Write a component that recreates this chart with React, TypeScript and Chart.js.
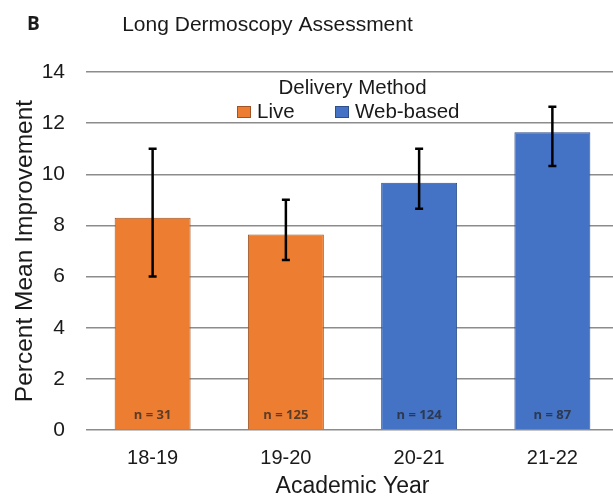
import React, { useEffect, useRef } from "react";
import { Chart, registerables } from "chart.js";

Chart.register(...registerables);

const categories = ["18-19", "19-20", "20-21", "21-22"];
const liveValues = [8.3, 7.65, null, null];
const webValues = [null, null, 9.67, 11.64];
const errLow = [6.0, 6.65, 8.65, 10.32];
const errHigh = [11.0, 9.0, 11.0, 12.64];
const nLabels = ["n = 31", "n = 125", "n = 124", "n = 87"];
const seriesNames = ["Live", "Web-based"];
const seriesColors = ["#ED7D31", "#4472C4"];
const seriesBorders = ["#9E5424", "#2F4F8A"];
const chartTitle = "Long Dermoscopy Assessment";
const panelLabel = "B";
const legendTitle = "Delivery Method";
const xTitle = "Academic Year";
const yTitle = "Percent Mean Improvement";

const FONT = "'Liberation Sans', Arial, sans-serif";

const overlayPlugin = {
  id: "overlay",
  afterDatasetsDraw(chart: any) {
    const { ctx, scales } = chart;
    const y = scales.y;
    ctx.save();
    chart.data.datasets.forEach((ds: any, di: number) => {
      const meta = chart.getDatasetMeta(di);
      meta.data.forEach((el: any, i: number) => {
        if (ds.data[i] == null) return;
        const x = el.x;
        const yl = y.getPixelForValue(errLow[i]);
        const yh = y.getPixelForValue(errHigh[i]);
        ctx.strokeStyle = "#000";
        ctx.lineWidth = 2.5;
        ctx.beginPath();
        ctx.moveTo(x, yl);
        ctx.lineTo(x, yh);
        ctx.stroke();
        ctx.beginPath();
        ctx.moveTo(x - 4, yl);
        ctx.lineTo(x + 4, yl);
        ctx.moveTo(x - 4, yh);
        ctx.lineTo(x + 4, yh);
        ctx.stroke();
        ctx.fillStyle = "rgba(35,35,35,0.72)";
        ctx.font = "bold 13px 'Open Sans', 'Liberation Sans', sans-serif";
        ctx.textAlign = "center";
        ctx.textBaseline = "middle";
        ctx.fillText(nLabels[i], x, y.getPixelForValue(0) - 15);
      });
    });
    ctx.restore();
  },
  afterDraw(chart: any) {
    const { ctx, chartArea } = chart;
    ctx.save();
    ctx.fillStyle = "#1a1a1a";
    ctx.textBaseline = "middle";
    ctx.font = "bold 19px 'Open Sans', 'Liberation Sans', sans-serif";
    ctx.textAlign = "left";
    ctx.fillText(panelLabel, 27, 25);
    ctx.font = `21px ${FONT}`;
    ctx.textAlign = "center";
    ctx.fillText(chartTitle, 267.5, 25);
    const cx = (chartArea.left + chartArea.right) / 2;
    ctx.font = `20.5px ${FONT}`;
    ctx.fillText(legendTitle, cx, 88);
    const itemsX = [237, 335];
    seriesNames.forEach((name, i) => {
      const bx = itemsX[i];
      ctx.fillStyle = seriesColors[i];
      ctx.fillRect(bx, 106, 14, 12);
      ctx.strokeStyle = seriesBorders[i];
      ctx.lineWidth = 1;
      ctx.strokeRect(bx + 0.5, 106.5, 13, 11);
      ctx.fillStyle = "#1a1a1a";
      ctx.textAlign = "left";
      ctx.fillText(name, bx + 20, 112);
    });
    ctx.restore();
  },
};

export default function App() {
  const ref = useRef<HTMLCanvasElement | null>(null);
  useEffect(() => {
    if (!ref.current) return;
    const chart = new Chart(ref.current, {
      type: "bar",
      data: {
        labels: categories,
        datasets: [
          {
            label: seriesNames[0],
            data: liveValues as any,
            backgroundColor: seriesColors[0],
            borderColor: seriesBorders[0],
            borderWidth: 1,
            skipNull: true,
          } as any,
          {
            label: seriesNames[1],
            data: webValues as any,
            backgroundColor: seriesColors[1],
            borderColor: seriesBorders[1],
            borderWidth: 1,
            skipNull: true,
          } as any,
        ],
      },
      options: {
        responsive: false,
        animation: false,
        layout: { padding: { top: 72, right: 3, left: 0, bottom: 0 } },
        datasets: { bar: { categoryPercentage: 0.57, barPercentage: 1 } },
        plugins: { legend: { display: false }, tooltip: { enabled: false }, title: { display: false } },
        scales: {
          x: {
            grid: { display: false },
            border: { display: false },
            ticks: { color: "#1a1a1a", font: { family: FONT, size: 20 }, padding: 8 },
            title: { display: true, text: xTitle, color: "#1a1a1a", font: { family: FONT, size: 23, lineHeight: 1 }, padding: { top: 0, bottom: -1 } },
            afterFit: (axis: any) => { axis.height = 67; },
          },
          y: {
            min: 0,
            max: 14,
            ticks: { stepSize: 2, color: "#1a1a1a", font: { family: FONT, size: 21 }, padding: 21 },
            grid: { color: "#8c8c8c", lineWidth: 1.5, drawTicks: false },
            border: { display: false },
            title: { display: true, text: yTitle, color: "#1a1a1a", font: { family: FONT, size: 24.5, lineHeight: 1 }, padding: { top: 13, bottom: 0 } },
            afterFit: (axis: any) => { axis.width = 86; },
          },
        },
      },
      plugins: [overlayPlugin],
    });
    return () => chart.destroy();
  }, []);
  return (
    <div style={{ position: "fixed", left: 0, top: 0, width: 613, height: 497, overflow: "hidden", background: "#fff" }}>
      <canvas ref={ref} width={622} height={497} style={{ width: 622, height: 497, display: "block" }} />
    </div>
  );
}
